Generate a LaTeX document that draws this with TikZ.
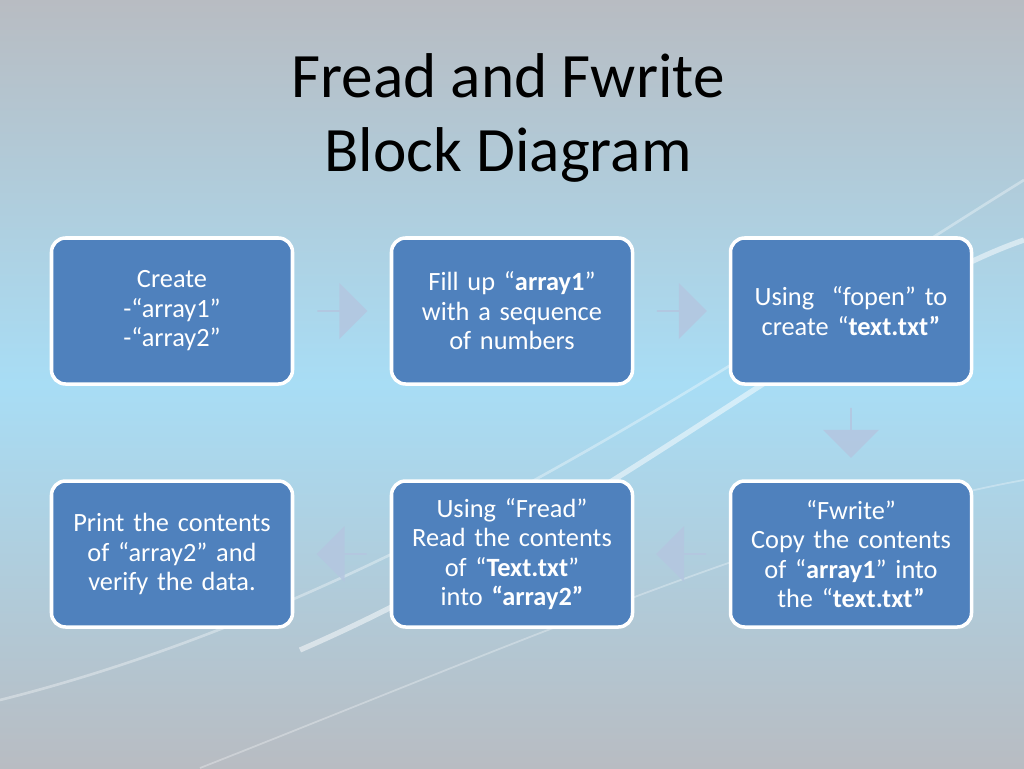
\documentclass[tikz,border=0pt]{standalone}
\usepackage{fontspec}
\setmainfont{Carlito}
\usetikzlibrary{shapes.arrows,calc}

\definecolor{boxblue}{HTML}{4F81BD}
\definecolor{skyblue}{HTML}{A8DDF5}
\definecolor{skygray}{HTML}{B8BCC2}
\definecolor{arrowfill}{HTML}{B4C6E0}

\newlength{\pxu}
\setlength{\pxu}{0.02cm}

\tikzset{
	box/.style={draw=white, line width=2pt, fill=boxblue, rounded corners=8pt,
		minimum width=241\pxu, minimum height=146\pxu,
		text width=222\pxu, align=center, text=white, font=\fontsize{15}{16.8}\selectfont},
	blk/.style={single arrow, fill=arrowfill, fill opacity=0.85, draw=none,
		minimum width=56\pxu, minimum height=50\pxu,
		single arrow head extend=10\pxu, single arrow head indent=0pt, inner sep=0pt},
}

\begin{document}
\begin{tikzpicture}[x=0.02cm, y=-0.02cm]

\useasboundingbox (0,0) rectangle (1024,768);

% background
\shade[top color=skygray, bottom color=skyblue] (0,0) rectangle (1024,384);
\shade[top color=skyblue, bottom color=skygray] (0,384) rectangle (1024,768);
\draw[white, opacity=0.5, line width=3pt] (300,650) .. controls (600,520) and (850,300) .. (1024,240);
\draw[white, opacity=0.35, line width=1.5pt] (0,700) .. controls (400,600) and (750,350) .. (1024,180);
\draw[white, opacity=0.3, line width=1pt] (200,768) .. controls (500,650) and (800,520) .. (1024,480);

% title
\node[font=\fontsize{36}{42}\selectfont, align=center] (title) at (508,118) {Fread and Fwrite\\Block Diagram};

% boxes
\node[box] (b1) at (172,311) {Create\\-“array1”\\-“array2”};
\node[box] (b2) at (512,311) {Fill up “\textbf{array1}”\\with a sequence of numbers};
\node[box] (b3) at (851,311) {Using\ \ “fopen” to create “\textbf{text.txt”}};
\node[box] (b6) at (851,554) {“Fwrite”\\Copy the contents of “\textbf{array1}” into the “\textbf{text.txt”}};
\node[box] (b5) at (512,554) {Using “Fread”\\Read the contents of “\textbf{Text.txt}” into \textbf{“array2”}};
\node[box] (b4) at (172,554) {Print the contents of “array2” and verify the data.};

% block arrows
\node[blk] (a12) at ($(b1.east)!0.5!(b2.west)$) {};
\node[blk] (a23) at ($(b2.east)!0.5!(b3.west)$) {};
\node[blk, rotate=-90] (a36) at ($(b3.south)!0.5!(b6.north)$) {};
\node[blk, rotate=180] (a65) at ($(b6.west)!0.5!(b5.east)$) {};
\node[blk, rotate=180] (a54) at ($(b5.west)!0.5!(b4.east)$) {};

\end{tikzpicture}
\end{document}
